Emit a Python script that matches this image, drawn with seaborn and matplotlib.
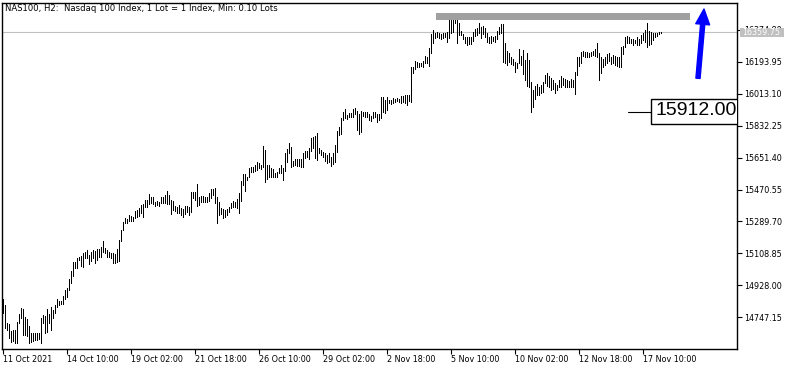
import numpy as np
import pandas as pd
import matplotlib
matplotlib.use("Agg")
import matplotlib.pyplot as plt
import seaborn as sns
from matplotlib.patches import Rectangle, FancyArrowPatch
from matplotlib.transforms import blended_transform_factory

# ---------------- data (H2 bars, high / low) ----------------
highs = [
    14851, 14817, 14713, 14709, 14670, 14675, 14675, 14722, 14766, 14800,
    14792, 14750, 14736, 14698, 14656, 14660, 14656, 14660, 14660, 14745,
    14760, 14756, 14794, 14764, 14807, 14788, 14815, 14849, 14841, 14841,
    14869, 14902, 14913, 14964, 15011, 15062, 15058, 15081, 15087, 15094,
    15109, 15118, 15128, 15098, 15117, 15128, 15124, 15134, 15134, 15147,
    15181, 15141, 15128, 15118, 15113, 15113, 15104, 15134, 15185, 15241,
    15288, 15307, 15302, 15326, 15320, 15317, 15349, 15354, 15367, 15383,
    15388, 15411, 15411, 15445, 15426, 15430, 15401, 15407, 15401, 15430,
    15430, 15439, 15462, 15439, 15411, 15407, 15377, 15373, 15383, 15367,
    15358, 15379, 15377, 15373, 15458, 15458, 15458, 15502, 15430, 15434,
    15434, 15430, 15430, 15449, 15472, 15472, 15481, 15426, 15398, 15364,
    15358, 15354, 15358, 15373, 15396, 15405, 15401, 15415, 15449, 15519,
    15558, 15558, 15543, 15590, 15596, 15596, 15609, 15628, 15619, 15609,
    15717, 15694, 15609, 15609, 15590, 15585, 15562, 15571, 15590, 15609,
    15590, 15679, 15698, 15732, 15709, 15633, 15643, 15643, 15641, 15643,
    15675, 15690, 15688, 15704, 15764, 15769, 15773, 15789, 15707, 15694,
    15684, 15679, 15666, 15675, 15656, 15675, 15722, 15803, 15822, 15873,
    15911, 15924, 15892, 15905, 15902, 15924, 15930, 15916, 15898, 15916,
    15911, 15911, 15911, 15898, 15886, 15911, 15911, 15898, 15898, 15992,
    15992, 15977, 15992, 15977, 15977, 15987, 15981, 15987, 15981, 16000,
    16000, 16005, 16005, 16005, 16165, 16165, 16199, 16194, 16185, 16188,
    16199, 16226, 16219, 16270, 16351, 16373, 16358, 16364, 16354, 16351,
    16358, 16354, 16364, 16434, 16439, 16464, 16464, 16458, 16411, 16369,
    16351, 16335, 16332, 16335, 16335, 16364, 16377, 16383, 16411, 16389,
    16396, 16383, 16354, 16335, 16339, 16335, 16339, 16369, 16392, 16407,
    16407, 16301, 16256, 16241, 16219, 16207, 16194, 16185, 16264, 16226,
    16260, 16203, 16241, 16203, 16081, 16034, 16056, 16068, 16049, 16062,
    16081, 16119, 16131, 16113, 16100, 16090, 16075, 16062, 16090, 16113,
    16100, 16094, 16090, 16086, 16094, 16090, 16137, 16219, 16222, 16250,
    16256, 16250, 16250, 16245, 16250, 16256, 16264, 16298, 16241, 16219,
    16207, 16222, 16237, 16245, 16219, 16232, 16226, 16219, 16219, 16279,
    16283, 16335, 16339, 16332, 16321, 16321, 16317, 16332, 16321, 16345,
    16354, 16373, 16411, 16369, 16364, 16358, 16358, 16354, 16364, 16364,
]
lows = [
    14770, 14688, 14675, 14628, 14609, 14613, 14603, 14600, 14713, 14741,
    14647, 14647, 14641, 14600, 14609, 14615, 14619, 14619, 14624, 14603,
    14713, 14660, 14666, 14713, 14675, 14741, 14773, 14807, 14817, 14821,
    14824, 14851, 14864, 14902, 14943, 14981, 15028, 15024, 15071, 15039,
    15033, 15081, 15081, 15047, 15066, 15081, 15056, 15071, 15090, 15090,
    15118, 15109, 15090, 15087, 15081, 15053, 15053, 15062, 15066, 15181,
    15241, 15279, 15283, 15294, 15294, 15292, 15307, 15317, 15320, 15336,
    15313, 15370, 15373, 15388, 15396, 15388, 15377, 15383, 15377, 15392,
    15396, 15396, 15388, 15388, 15332, 15354, 15350, 15339, 15339, 15326,
    15313, 15332, 15345, 15326, 15345, 15421, 15411, 15377, 15383, 15401,
    15401, 15401, 15401, 15407, 15421, 15439, 15392, 15283, 15326, 15332,
    15307, 15317, 15326, 15345, 15364, 15370, 15370, 15364, 15336, 15407,
    15496, 15464, 15524, 15540, 15571, 15571, 15577, 15581, 15590, 15585,
    15596, 15515, 15528, 15543, 15540, 15543, 15540, 15543, 15562, 15566,
    15524, 15577, 15628, 15675, 15596, 15603, 15609, 15603, 15603, 15599,
    15596, 15647, 15656, 15641, 15690, 15704, 15647, 15637, 15675, 15666,
    15656, 15633, 15622, 15628, 15603, 15615, 15628, 15684, 15779, 15785,
    15864, 15873, 15868, 15879, 15882, 15879, 15898, 15807, 15783, 15798,
    15886, 15879, 15882, 15864, 15860, 15873, 15879, 15854, 15864, 15873,
    15911, 15905, 15920, 15962, 15954, 15962, 15967, 15973, 15967, 15962,
    15967, 15958, 15949, 15973, 15967, 16131, 16151, 16165, 16165, 16169,
    16165, 16188, 16185, 16169, 16245, 16298, 16326, 16335, 16326, 16321,
    16326, 16332, 16307, 16326, 16354, 16364, 16411, 16298, 16345, 16345,
    16321, 16298, 16288, 16294, 16294, 16313, 16339, 16345, 16354, 16326,
    16351, 16332, 16307, 16298, 16301, 16313, 16307, 16321, 16351, 16354,
    16194, 16188, 16175, 16194, 16181, 16175, 16137, 16156, 16185, 16175,
    16124, 16090, 16056, 16052, 15911, 15936, 15981, 16005, 16005, 16018,
    16024, 16072, 16056, 16049, 16034, 16038, 16018, 16034, 16049, 16049,
    16062, 16052, 16049, 16049, 16049, 16052, 16011, 16119, 16169, 16185,
    16226, 16222, 16222, 16219, 16226, 16232, 16226, 16219, 16090, 16131,
    16165, 16175, 16188, 16199, 16181, 16185, 16175, 16169, 16165, 16165,
    16237, 16279, 16301, 16298, 16298, 16288, 16298, 16288, 16288, 16301,
    16317, 16307, 16279, 16288, 16294, 16317, 16332, 16339, 16351, 16354,
]
tick_bars = [0, 32, 64, 96, 128, 160, 192, 224, 256, 288, 320]
tick_labels = ["11 Oct 2021", "14 Oct 10:00", "19 Oct 02:00", "21 Oct 18:00",
               "26 Oct 10:00", "29 Oct 02:00", "2 Nov 18:00", "5 Nov 10:00",
               "10 Nov 02:00", "12 Nov 18:00", "17 Nov 10:00"]
price_ticks = [14747.15, 14928.00, 15108.85, 15289.70, 15470.55,
               15651.40, 15832.25, 16013.10, 16193.95, 16374.80]
last_price = 16359.75
marked_price = 15912.00
title = "NAS100, H2:  Nasdaq 100 Index, 1 Lot = 1 Index, Min: 0.10 Lots"

# drawn objects (bar index / price)
zone_start, zone_end = 216.5, 343.5
zone_low, zone_high = 16430, 16468
arrow_tail = (347.5, 16100)
arrow_head = (350.5, 16492)
marker_line = (312.5, 324.0)

# ---------------- figure ----------------
sns.set_style("white")
plt.rcParams["font.family"] = ["DejaVu Sans"]

W, H = 795, 370
fig = plt.figure(figsize=(W / 100, H / 100), dpi=100)
ax = fig.add_axes([2 / W, 21 / H, 735 / W, 346.5 / H])

n = len(highs)
idx = np.arange(n)
df = pd.DataFrame({
    "bar": np.concatenate([idx, idx]),
    "unit": np.concatenate([idx, idx]),
    "price": np.concatenate([lows, highs]),
})
sns.lineplot(data=df, x="bar", y="price", units="unit", estimator=None,
             color="black", lw=0.55, antialiased=False, sort=False,
             solid_capstyle="butt", legend=False, ax=ax)

ax.set_xlim(-0.5, 367)
ax.set_ylim(14568, 16529)
ax.set_xlabel("")
ax.set_ylabel("")

# current price line
ax.axhline(last_price, color="#c0c0c0", lw=0.8, zorder=1)

# grey zone
ax.add_patch(Rectangle((zone_start, zone_low), zone_end - zone_start,
                       zone_high - zone_low, facecolor="#a0a0a0",
                       edgecolor="none", zorder=3))

# blue arrow
ax.add_patch(FancyArrowPatch(posA=arrow_tail, posB=arrow_head,
                             arrowstyle="simple,head_length=1.1,head_width=1.0,tail_width=0.3",
                             mutation_scale=10, color="#0000ff",
                             shrinkA=0, shrinkB=0, zorder=4))

# marked price label
ax.plot(list(marker_line), [marked_price, marked_price], color="black", lw=0.8)
ax.add_patch(Rectangle((marker_line[1], marked_price - 71), 60, 142,
                       facecolor="white", edgecolor="black", lw=1.0, zorder=4))
ax.text(marker_line[1] + 2.5, marked_price + 4, f"{marked_price:.2f}", fontsize=14,
        family=["Liberation Sans", "DejaVu Sans"],
        va="center", ha="left", color="black", zorder=5, clip_on=True)

# title
ax.text(0.004, 0.996, title, transform=ax.transAxes, ha="left", va="top",
        fontsize=6.1, color="black")

# spines
for s in ax.spines.values():
    s.set_visible(True)
    s.set_color("black")
    s.set_linewidth(1.0)

# x ticks
ax.set_xticks(tick_bars)
ax.set_xticklabels(tick_labels, ha="left")
ax.tick_params(axis="x", bottom=True, direction="out", length=3.5, width=0.8,
               pad=1, labelsize=5.8, colors="black")

# y ticks on the right
ax.yaxis.tick_right()
ax.set_yticks(price_ticks)
ax.set_yticklabels([f"{v:.2f}" for v in price_ticks])
ax.tick_params(axis="y", right=True, left=False, direction="out", length=3.5,
               width=0.8, pad=1.5, labelsize=5.8, colors="black")

# current price tag on the axis
tr = blended_transform_factory(ax.transAxes, ax.transData)
ax.add_patch(Rectangle((1 + 3 / 735, last_price - 24), 44 / 735, 48,
                       transform=tr, facecolor="#c0c0c0", edgecolor="none",
                       clip_on=False, zorder=10))
ax.text(1 + 5.5 / 735, last_price, f"{last_price:.2f}", transform=tr,
        fontsize=5.8, color="white", va="center", ha="left",
        clip_on=False, zorder=11)

fig.savefig("out.png", dpi=100)
